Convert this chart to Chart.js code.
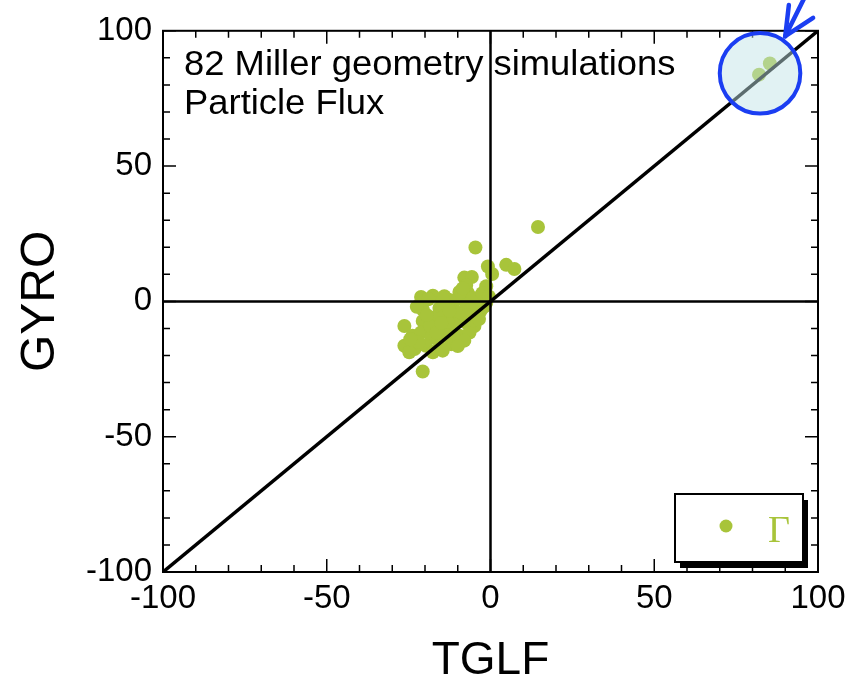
<!DOCTYPE html>
<html>
<head>
<meta charset="utf-8">
<script src="https://cdn.jsdelivr.net/npm/chart.js@4.4.0/dist/chart.umd.min.js"></script>
<style>
  html, body { margin: 0; padding: 0; background: #fff; }
  canvas { display: block; }
</style>
</head>
<body>
<canvas id="chart" width="859" height="680"></canvas>
<script>
// ---- data ----
const tglf = [
  14.5, -4.6, -0.8, 0.5, 4.8, 7.3, -8.0, -5.7, -1.3, -9.5,
  -6.9, -14.1, -1.8, -7.4, -21.2, -17.6, -9.5, -5.4, -20.7, -15.6,
  -11.5, -7.4, -3.4, -1.3, -17.6, -14.1, -9.5, -4.9, -26.3, -20.7,
  -16.1, -12.0, -7.4, -4.9, -23.8, -21.2, -18.1, -13.5, -9.5, -6.4,
  -26.3, -23.2, -19.7, -15.6, -12.0, -17.6, -14.6, -20.7, -24.8, -3.0,
  -12.5, -19.0, -10.5, -8.0, -11.0, -16.0, -2.5, -22.5, -18.5, -13.0,
  -5.5, -3.5, -16.5, -11.5, -6.0, -14.5, -22.0, -24.5, -19.5, -2.0,
  -8.5, -12.5, -0.5, -7.0, -15.0, -10.0, 82.0, 85.3
];
const gyro = [
  27.5, 19.9, 12.9, 10.1, 13.5, 12.0, 8.8, 9.0, 5.6, 3.5,
  3.1, 1.9, 0.4, 6.1, 1.6, 2.1, 1.3, 1.3, -3.0, -2.4,
  -1.8, -1.2, -2.4, -0.5, -6.0, -5.4, -6.0, -5.4, -9.1, -7.2,
  -9.7, -10.3, -7.9, -9.1, -12.7, -11.5, -13.3, -12.7, -12.7, -11.5,
  -16.4, -17.6, -16.4, -17.0, -15.8, -18.8, -18.2, -25.9, -18.8, -3.5,
  0.5, 0.8, -4.0, -14.5, -8.5, -14.0, 3.0, -2.0, -9.0, -7.5,
  -7.0, -6.5, -11.5, -13.5, -3.0, 0.5, -15.0, -14.0, -5.0, -2.0,
  4.8, -3.5, 1.8, -5.0, -8.0, -16.5, 83.8, 87.9
];
const axisTicks = [-100, -50, 0, 50, 100];
const seriesLabel = "Γ";
const noteLines = ["82 Miller geometry simulations", "Particle Flux"];

// highlight circle + arrow (data units)
const circleCenter = [82.3, 84.3];
const circleRadius = 12.3;
const arrowTip = [90, 98];
const arrowEnds = [[96.1, 112.8], [91.1, 109.5], [98.5, 104.8]];

const GREEN = "#a8c43a";
const BLUE = "#1b3ef2";
const FONT = "'Liberation Sans', Arial, sans-serif";

const points = tglf.map((x, i) => ({ x: x, y: gyro[i] }));

// ---- plugin: frame, inward ticks, note, legend, highlight ----
const decor = {
  id: "decor",
  afterDatasetsDraw(chart) {
    const ctx = chart.ctx;
    const { left, right, top, bottom } = chart.chartArea;
    const xs = chart.scales.x, ys = chart.scales.y;
    ctx.save();

    // frame
    ctx.strokeStyle = "#000";
    ctx.lineWidth = 2;
    ctx.strokeRect(left, top, right - left, bottom - top);

    // inward ticks on all four sides
    ctx.lineWidth = 1.5;
    for (let v = -100; v <= 100; v += 10) {
      const len = v % 50 === 0 ? 13 : 7;
      const px = xs.getPixelForValue(v);
      const py = ys.getPixelForValue(v);
      ctx.beginPath();
      ctx.moveTo(px, bottom); ctx.lineTo(px, bottom - len);
      ctx.moveTo(px, top); ctx.lineTo(px, top + len);
      ctx.moveTo(left, py); ctx.lineTo(left + len, py);
      ctx.moveTo(right, py); ctx.lineTo(right - len, py);
      ctx.stroke();
    }

    // note text (slightly wide, like the original)
    ctx.save();
    ctx.translate(left + 21, 0);
    ctx.scale(1.055, 1);
    ctx.fillStyle = "#000";
    ctx.font = "34.5px " + FONT;
    ctx.textBaseline = "alphabetic";
    ctx.textAlign = "left";
    ctx.fillText(noteLines[0], 0, top + 44);
    ctx.fillText(noteLines[1], 0, top + 83);
    ctx.restore();

    // legend box with shadow
    const lx = 675, ly = 494, lw = 128, lh = 68;
    ctx.fillStyle = "#000";
    ctx.fillRect(lx + 5, ly + 6, lw, lh);
    ctx.fillStyle = "#fff";
    ctx.fillRect(lx, ly, lw, lh);
    ctx.lineWidth = 2;
    ctx.strokeRect(lx, ly, lw, lh);
    const ds = chart.data.datasets.find(d => d.label === seriesLabel);
    ctx.fillStyle = ds.backgroundColor;
    ctx.beginPath();
    ctx.arc(lx + 51, ly + 32, 6.5, 0, Math.PI * 2);
    ctx.fill();
    ctx.font = "38px 'Liberation Serif', serif";
    ctx.textAlign = "center";
    ctx.fillText(ds.label, lx + 104, ly + 48);

    // highlight circle
    const cx = xs.getPixelForValue(circleCenter[0]);
    const cy = ys.getPixelForValue(circleCenter[1]);
    const r = xs.getPixelForValue(circleCenter[0] + circleRadius) - cx;
    ctx.beginPath();
    ctx.arc(cx, cy, r, 0, Math.PI * 2);
    ctx.fillStyle = "rgba(192,228,229,0.48)";
    ctx.fill();
    ctx.lineWidth = 4;
    ctx.strokeStyle = BLUE;
    ctx.stroke();

    // arrow
    const tx = xs.getPixelForValue(arrowTip[0]);
    const ty = ys.getPixelForValue(arrowTip[1]);
    ctx.lineCap = "round";
    ctx.lineWidth = 4.5;
    arrowEnds.forEach(e => {
      ctx.beginPath();
      ctx.moveTo(tx, ty);
      ctx.lineTo(xs.getPixelForValue(e[0]), ys.getPixelForValue(e[1]));
      ctx.stroke();
    });
    ctx.restore();
  }
};

const lineStyle = { type: "line", borderColor: "#000", pointRadius: 0, fill: false, order: 1 };

new Chart(document.getElementById("chart"), {
  type: "scatter",
  data: {
    datasets: [
      { ...lineStyle, label: "diag", borderWidth: 3.5, data: [{ x: -100, y: -100 }, { x: 100, y: 100 }] },
      { ...lineStyle, label: "x0", borderWidth: 2.5, data: [{ x: -100, y: 0 }, { x: 100, y: 0 }] },
      { ...lineStyle, label: "y0", borderWidth: 2.5, data: [{ x: 0, y: -100 }, { x: 0, y: 100 }] },
      {
        label: seriesLabel,
        data: points,
        backgroundColor: GREEN,
        borderWidth: 0,
        pointRadius: 7,
        order: 2
      }
    ]
  },
  options: {
    responsive: false,
    animation: false,
    layout: { padding: { top: 25, right: 41, left: 0, bottom: 0 } },
    plugins: { legend: { display: false }, tooltip: { enabled: false } },
    scales: {
      x: {
        type: "linear", min: -100, max: 100,
        afterBuildTicks: s => { s.ticks = axisTicks.map(v => ({ value: v })); },
        afterFit: s => { s.height = 108; },
        grid: { display: false, drawTicks: false },
        border: { display: false },
        ticks: { color: "#000", font: { family: FONT, size: 33 }, padding: 7, maxRotation: 0 },
        title: { display: true, text: "TGLF", color: "#000", font: { family: FONT, size: 46, lineHeight: 0.8 }, padding: { top: 0, bottom: 0 } }
      },
      y: {
        type: "linear", min: -100, max: 100,
        afterBuildTicks: s => { s.ticks = axisTicks.map(v => ({ value: v })); },
        afterFit: s => { s.width = 163; },
        grid: { display: false, drawTicks: false },
        border: { display: false },
        ticks: { color: "#000", font: { family: FONT, size: 33 }, padding: 11 },
        title: { display: true, text: "GYRO", color: "#000", font: { family: FONT, size: 48, lineHeight: 1.2 }, padding: { top: 12, bottom: 0 } }
      }
    }
  },
  plugins: [decor]
});
</script>
</body>
</html>
